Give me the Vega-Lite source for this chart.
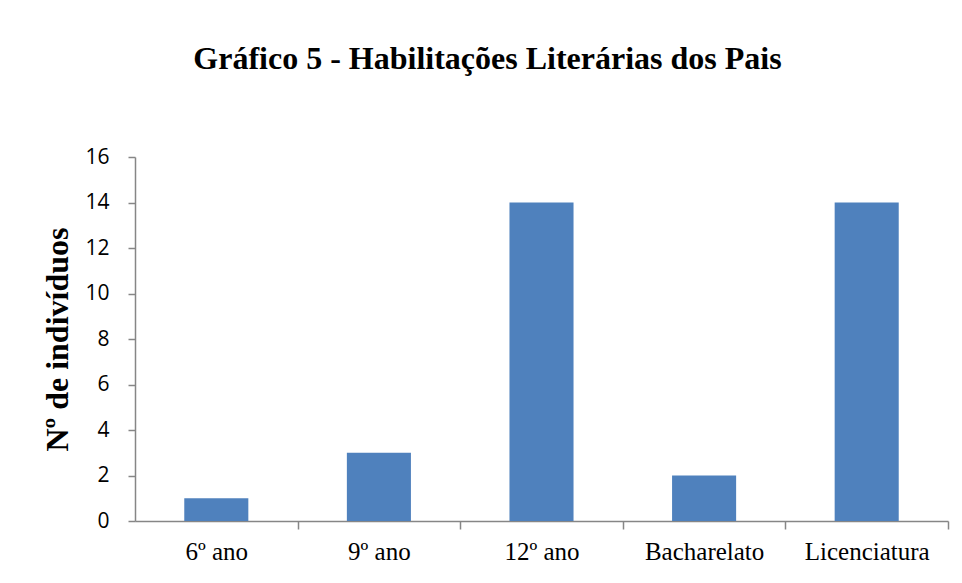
{
  "$schema": "https://vega.github.io/schema/vega-lite/v6.json",
  "autosize": {"type": "none"},
  "width": 813,
  "height": 364,
  "padding": {"left": 135, "top": 157, "right": 14, "bottom": 62},
  "background": "white",
  "title": {
    "text": "Gráfico 5 - Habilitações Literárias dos Pais",
    "font": "Liberation Serif",
    "fontSize": 32,
    "fontWeight": "bold",
    "color": "black",
    "anchor": "middle",
    "frame": "group",
    "dx": -54,
    "baseline": "alphabetic",
    "offset": 45
  },
  "data": {
    "values": [
      {"cat": "6º ano", "n": 1},
      {"cat": "9º ano", "n": 3},
      {"cat": "12º ano", "n": 14},
      {"cat": "Bacharelato", "n": 2},
      {"cat": "Licenciatura", "n": 14}
    ]
  },
  "mark": {"type": "bar", "color": "#4F81BD"},
  "encoding": {
    "x": {
      "field": "cat",
      "type": "nominal",
      "sort": null,
      "scale": {"paddingInner": 0.606, "paddingOuter": 0.303},
      "axis": {
        "title": null,
        "labelAngle": 0,
        "labelFont": "Liberation Serif",
        "labelFontSize": 25,
        "labelColor": "black",
        "labelPadding": 10,
        "bandPosition": 1,
        "tickOffset": 49.3,
        "labelOffset": -49.3,
        "tickSize": 8,
        "tickColor": "#868686",
        "domainColor": "#868686",
        "domainWidth": 1.5,
        "tickWidth": 1.5
      }
    },
    "y": {
      "field": "n",
      "type": "quantitative",
      "scale": {"domain": [0, 16]},
      "axis": {
        "title": "Nº de indivíduos",
        "titleFont": "Liberation Serif",
        "titleFontSize": 32,
        "titleFontWeight": "bold",
        "titleColor": "black",
        "titlePadding": 10,
        "values": [0, 2, 4, 6, 8, 10, 12, 14, 16],
        "grid": false,
        "labelFont": "Open Sans",
        "labelFontSize": 21,
        "labelColor": "black",
        "labelPadding": 19,
        "tickSize": 7,
        "tickColor": "#868686",
        "domainColor": "#868686",
        "domainWidth": 1.5,
        "tickWidth": 1.5
      }
    }
  },
  "config": {"view": {"stroke": null}}
}
